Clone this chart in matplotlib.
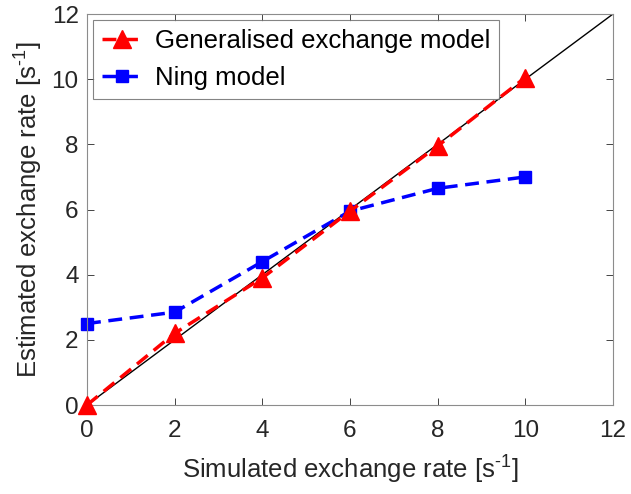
import matplotlib.pyplot as plt

# exchange rates used in the simulation and the fitted estimates
simulated_rate = [0, 2, 4, 6, 8, 10]
generalised_est = [0.0, 2.2, 3.9, 5.95, 7.95, 10.05]
ning_est = [2.5, 2.85, 4.4, 5.95, 6.65, 7.0]
identity = [0, 12]

ticks = [0, 2, 4, 6, 8, 10, 12]

plt.rcParams['font.family'] = ['Liberation Sans', 'DejaVu Sans']
plt.rcParams['mathtext.default'] = 'regular'
text_col = '#262626'
unit = ' [s$^{\u20101}$]'

fig = plt.figure(figsize=(6.31, 4.94), dpi=100)
ax = fig.add_axes([87/631, 1 - 405/494, (613 - 87)/631, (405 - 14)/494])

# line of identity
ax.plot(identity, identity, color='black', lw=1.0, zorder=1)
ax.plot(simulated_rate, generalised_est, color='red', ls='--', lw=2.5,
        marker='^', ms=12.5, dashes=(4, 2.2), label='Generalised exchange model',
        zorder=3, clip_on=False)
ax.plot(simulated_rate, ning_est, color='blue', ls='--', lw=2.5,
        marker='s', ms=8, dashes=(4, 2.2), label='Ning model', zorder=2,
        clip_on=False)

ax.set_xlim(0, 12)
ax.set_ylim(0, 12)
ax.set_xticks(ticks)
ax.set_yticks(ticks)
ax.tick_params(direction='in', labelsize=17.5, colors=text_col, length=5,
               top=True, right=True, width=0.6)
ax.tick_params(axis='x', pad=11)
ax.tick_params(axis='y', pad=6)
for s in ax.spines.values():
    s.set_color('#8c8c8c')
    s.set_linewidth(0.8)

ax.set_xlabel('Simulated exchange rate' + unit, fontsize=18.5, color=text_col, labelpad=8)
ax.set_ylabel('Estimated exchange rate' + unit, fontsize=18.5, color=text_col, labelpad=5)

leg = ax.legend(loc='upper left', fontsize=18.5, frameon=True, fancybox=False,
                handlelength=1.5, borderaxespad=0.25, labelspacing=0.5,
                handletextpad=0.55, borderpad=0.35)
leg.get_frame().set_edgecolor('#666666')
leg.get_frame().set_linewidth(0.8)

fig.savefig('out.png', dpi=100)
